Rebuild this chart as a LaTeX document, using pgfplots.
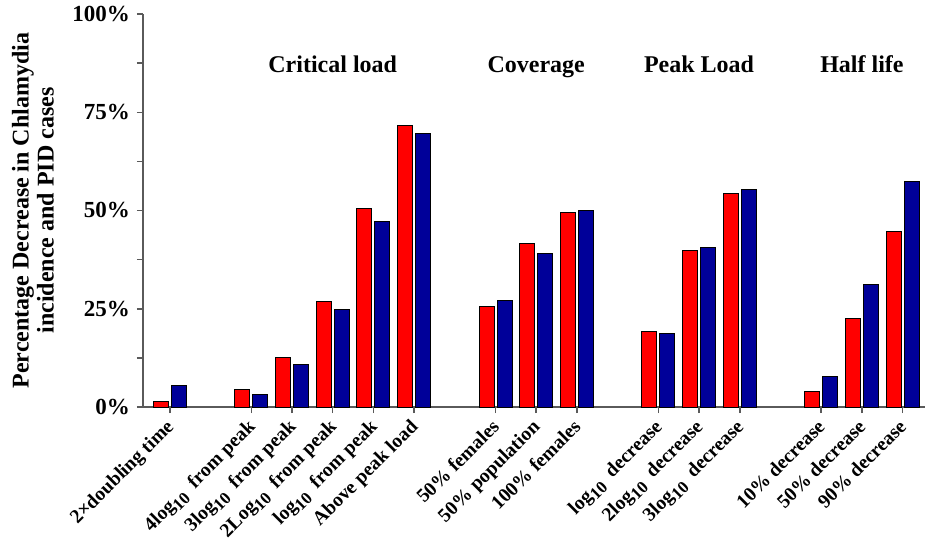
\documentclass[border=0pt]{standalone}
\usepackage{fontspec}
\setmainfont{Liberation Serif}
\usepackage{pgfplots}
\pgfplotsset{compat=1.18}
\definecolor{barred}{RGB}{255,0,0}
\definecolor{barblue}{RGB}{0,0,153}
\definecolor{axisgray}{RGB}{90,90,90}
\newcommand{\sub}[1]{\raisebox{-0.5ex}{\fontsize{8.5}{8.5}\selectfont #1}}
\begin{document}
\begin{tikzpicture}
\path[use as bounding box] (-71.5pt,-67pt) rectangle (391pt,203.5pt);
\begin{axis}[
  at={(0,0)}, anchor=south west,
  scale only axis, width=391pt, height=196.5pt,
  xmin=-0.66, xmax=18.55, ymin=0, ymax=100,
  axis lines*=left,
  clip=false,
  axis line style={axisgray, line width=0.75pt},
  tick style={axisgray, line width=0.75pt},
  tick align=outside, major tick length=3pt, minor tick length=3pt,
  ytick={0,25,50,75,100},
  yticklabels={0\%,25\%,50\%,75\%,100\%},
  minor ytick={12.5,37.5,62.5,87.5},
  xtick={0,2,3,4,5,6,8,9,10,12,13,14,16,17,18},
  xticklabels={
    2×doubling time,
    4log\sub{10}\ \ from peak,
    3log\sub{10}\ \ from peak,
    2Log\sub{10}\ \ from peak,
    log\sub{10}\ \ from peak,
    Above peak load,
    50\% females,
    50\% population,
    100\% females,
    log\sub{10}\ \ decrease,
    2log\sub{10}\ \ decrease,
    3log\sub{10}\ \ decrease,
    10\% decrease,
    50\% decrease,
    90\% decrease},
  x tick label style={xshift=-2.5pt, yshift=-1pt, rotate=45, anchor=north east, font=\bfseries\fontsize{9.8}{12}\selectfont, inner sep=1pt},
  y tick label style={font=\bfseries\fontsize{11.5}{13}\selectfont},
  ylabel={Percentage Decrease in Chlamydia\\incidence and PID cases},
  ylabel style={at={(axis description cs:-0.1407,0.5)}, anchor=center, align=center, font=\bfseries\fontsize{12}{12.5}\selectfont},
]
\addplot[ybar, bar width=7.5pt, bar shift=-4.5pt, fill=barred, draw=black, line width=0.5pt] coordinates {
  (0,1.4) (2,4.4) (3,12.7) (4,26.9) (5,50.5) (6,71.7)
  (8,25.5) (9,41.6) (10,49.5)
  (12,19.3) (13,39.9) (14,54.2)
  (16,4.0) (17,22.6) (18,44.6)};
\addplot[ybar, bar width=7.5pt, bar shift=4.5pt, fill=barblue, draw=black, line width=0.5pt] coordinates {
  (0,5.5) (2,3.2) (3,10.8) (4,24.9) (5,47.1) (6,69.7)
  (8,27.2) (9,39.0) (10,50.1)
  (12,18.6) (13,40.6) (14,55.4)
  (16,7.8) (17,31.1) (18,57.3)};
\node[anchor=base, font=\bfseries\fontsize{12}{14}\selectfont] at (axis cs:4,85.2) {Critical load};
\node[anchor=base, font=\bfseries\fontsize{12}{14}\selectfont] at (axis cs:9,85.2) {Coverage};
\node[anchor=base, font=\bfseries\fontsize{12}{14}\selectfont] at (axis cs:13,85.2) {Peak Load};
\node[anchor=base, font=\bfseries\fontsize{12}{14}\selectfont] at (axis cs:17,85.2) {Half life};
\end{axis}
\end{tikzpicture}
\end{document}
